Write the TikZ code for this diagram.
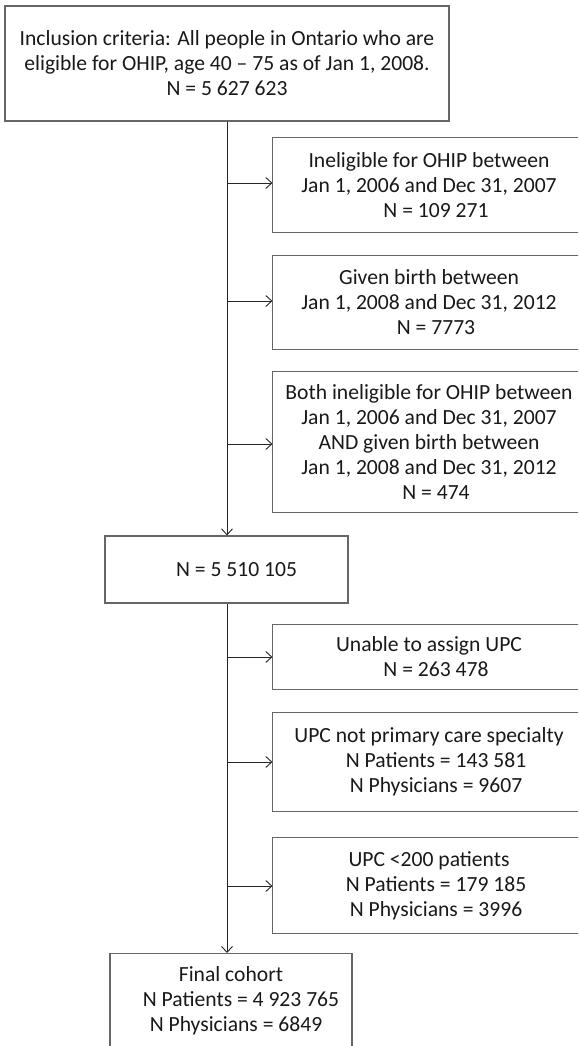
\documentclass[tikz,border=0pt]{standalone}
\usepackage{fontspec}
\setmainfont{Carlito}
\usetikzlibrary{arrows.meta}
\begin{document}
\begin{tikzpicture}[x=1pt,y=-1pt,
  box/.style={draw=black!60, line width=1.1pt, rectangle, inner sep=0pt, align=center,
    text=black!90, font=\fontsize{21.6}{25}\selectfont},
  rbox/.style={box, draw=none, minimum width=312pt},
  rline/.style={draw=black!60, line width=1.1pt},
  conn/.style={draw=black!85, line width=1pt},
  arr/.style={conn, -{Straight Barb[length=6pt,width=11pt,line width=0.9pt]}}]
\useasboundingbox (0,0) rectangle (578,1046);
\clip (0,0) rectangle (578,1046);
\fill[white] (0,0) rectangle (578,1046);

\node[box, minimum width=444pt, minimum height=115pt] (top) at (227,63.5)
  {Inclusion criteria: All people in Ontario who are\\eligible for OHIP, age 40 -- 75 as of Jan 1, 2008.\\N = 5 627 623};

\node[rbox, minimum height=94pt] (b1) at (429,185)
  {Ineligible for OHIP between\\Jan 1, 2006 and Dec 31, 2007\\\hspace*{14pt}N = 109 271};
\node[rbox, minimum height=93pt] (b2) at (429,302.5)
  {Given birth between\\Jan 1, 2008 and Dec 31, 2012\\\hspace*{14pt}N = 7773};
\node[rbox, minimum height=140pt] (b3) at (429,442)
  {Both ineligible for OHIP between\\Jan 1, 2006 and Dec 31, 2007\\AND given birth between\\Jan 1, 2008 and Dec 31, 2012\\\hspace*{14pt}N = 474};

\node[box, minimum width=243pt, minimum height=67pt] (n) at (226.5,569.5)
  {\hspace*{20pt}N = 5 510 105};

\node[rbox, minimum height=64pt] (b4) at (429,657)
  {Unable to assign UPC\\\hspace*{14pt}N = 263 478};
\node[rbox, minimum height=98pt] (b5) at (429,762)
  {UPC not primary care specialty\\\hspace*{14pt}N Patients = 143 581\\\hspace*{14pt}N Physicians = 9607};
\node[rbox, minimum height=95pt] (b6) at (429,885.5)
  {UPC {<}200 patients\\\hspace*{14pt}N Patients = 179 185\\\hspace*{14pt}N Physicians = 3996};

\foreach \b in {b1,b2,b3,b4,b5,b6}
  \draw[rline] ([xshift=40pt]\b.north east) -- (\b.north west) -- (\b.south west) -- ([xshift=40pt]\b.south east);

\node[box, minimum width=242pt, minimum height=120pt, anchor=north] (fin) at (231,953) {};
\node[align=center, anchor=north, inner sep=0pt, text=black!90,
  font=\fontsize{21.6}{25}\selectfont] (fintext) at (231,966)
  {Final cohort\\\hspace*{20pt}N Patients = 4 923 765\\\hspace*{10pt}N Physicians = 6849};

\coordinate (c1) at (227,183);
\coordinate (c2) at (227,301);
\coordinate (c3) at (227,444);
\coordinate (c4) at (227,657);
\coordinate (c5) at (227,762);
\coordinate (c6) at (227,886);

\draw[arr] (top.south -| c1) -- (n.north -| c1);
\draw[arr] (n.south -| c1) -- (fin.north -| c1);
\draw[arr] (c1) -- (c1 -| b1.west);
\draw[arr] (c2) -- (c2 -| b2.west);
\draw[arr] (c3) -- (c3 -| b3.west);
\draw[arr] (c4) -- (c4 -| b4.west);
\draw[arr] (c5) -- (c5 -| b5.west);
\draw[arr] (c6) -- (c6 -| b6.west);
\end{tikzpicture}
\end{document}
